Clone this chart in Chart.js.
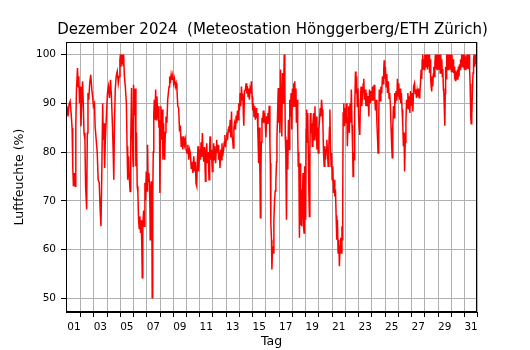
<!DOCTYPE html>
<html>
<head>
<meta charset="utf-8">
<script src="https://cdn.jsdelivr.net/npm/chart.js@4"></script>
<style>
html,body{margin:0;padding:0;background:#fff;}
#wrap{width:530px;height:350px;}
</style>
</head>
<body>
<div id="wrap"><canvas id="c" width="530" height="350"></canvas></div>
<script>
// Zeit in Tagen (Tick-Wert k = Beschriftung "k")
const tag = [
-0.10,-0.03,0.05,0.13,0.21,0.28,0.36,0.41,0.46,0.54,0.59,0.64,0.69,0.77,0.82,0.87,0.92,0.97,
1.03,1.10,1.15,1.21,1.26,1.33,1.38,1.46,1.51,1.56,1.62,1.69,1.77,1.85,1.92,1.97,
2.05,2.10,2.18,2.26,2.33,2.41,2.49,2.54,2.59,2.67,2.72,2.77,2.82,2.87,2.95,
3.03,3.10,3.18,3.26,3.33,3.41,3.46,3.51,3.56,3.62,3.69,3.77,3.85,3.92,
3.97,4.01,4.05,4.09,4.13,4.17,4.21,4.25,4.31,4.38,4.46,4.51,4.56,4.62,4.69,4.74,4.79,4.85,4.90,4.97,
5.00,5.07,5.13,5.18,5.22,5.28,5.33,5.38,5.43,5.48,5.53,5.58,5.63,5.66,5.70,5.76,5.81,5.86,5.91,5.96,
6.03,6.06,6.10,6.16,6.21,6.24,6.26,6.30,6.34,6.38,6.41,6.45,6.49,6.53,6.57,6.62,6.67,6.72,6.77,6.82,6.87,6.92,6.96,6.99,
7.03,7.07,7.12,7.17,7.22,7.27,7.31,7.35,7.40,7.45,7.52,7.58,7.63,7.68,7.73,7.78,7.84,7.90,7.96,
8.03,8.09,8.16,8.22,8.28,8.34,8.41,8.47,8.54,8.60,8.66,8.72,8.79,8.85,8.91,8.97,
9.04,9.10,9.17,9.23,9.29,9.36,9.42,9.48,9.55,9.61,9.67,9.72,9.77,9.82,9.87,9.92,
10.00,10.05,10.10,10.15,10.20,10.25,10.30,10.36,10.43,10.47,10.53,10.58,10.64,10.70,10.75,10.78,10.82,10.88,10.95,
11.00,11.05,11.10,11.15,11.20,11.25,11.28,11.33,11.38,11.43,11.48,11.53,11.58,11.63,11.68,11.73,11.80,11.85,11.90,11.95,
12.00,12.05,12.10,12.15,12.20,12.25,12.30,12.35,12.40,12.45,12.50,12.53,12.58,12.63,12.70,12.75,12.80,12.85,12.90,12.95,
13.00,13.05,13.10,13.15,13.20,13.25,13.30,13.33,13.38,13.45,13.50,13.55,13.60,13.65,13.70,13.75,13.80,13.85,13.90,13.95,
14.00,14.05,14.10,14.15,14.20,14.25,14.30,14.35,14.40,14.45,14.50,14.55,14.58,14.62,14.65,14.70,14.75,14.80,14.85,14.90,14.95,
15.00,15.05,15.10,15.15,15.20,15.25,15.30,15.33,15.37,15.42,15.45,15.50,15.55,15.60,15.65,15.70,15.75,15.80,15.83,15.88,15.93,15.97,
16.00,16.05,16.10,16.15,16.20,16.25,16.30,16.35,16.38,16.43,16.46,16.50,16.55,16.60,16.65,16.70,16.75,16.80,16.85,16.90,16.95,
17.00,17.05,17.10,17.15,17.18,17.22,17.27,17.30,17.35,17.40,17.44,17.48,17.53,17.58,17.62,17.66,17.70,17.75,17.80,17.84,17.88,17.92,17.96,
18.00,18.04,18.08,18.12,18.16,18.20,18.24,18.28,18.32,18.36,18.40,18.45,18.50,18.55,18.60,18.65,18.70,18.75,18.80,18.85,18.90,18.95,
19.00,19.05,19.10,19.15,19.20,19.25,19.30,19.35,19.40,19.45,19.50,19.55,19.60,19.65,19.70,19.75,19.80,19.83,19.87,19.92,19.96,
20.00,20.05,20.10,20.15,20.20,20.25,20.30,20.35,20.40,20.45,20.50,20.55,20.60,20.65,20.70,20.74,20.77,20.80,20.83,20.88,20.93,20.98,
21.03,21.08,21.12,21.15,21.20,21.25,21.30,21.35,21.40,21.45,21.50,21.55,21.58,21.62,21.66,21.70,21.76,21.80,21.85,21.90,21.95,
22.00,22.04,22.09,22.13,22.18,22.24,22.30,22.35,22.39,22.44,22.50,22.55,22.60,22.66,22.72,22.77,22.82,22.88,22.94,
23.00,23.05,23.10,23.17,23.22,23.27,23.32,23.38,23.44,23.47,23.52,23.56,23.62,23.68,23.74,23.80,23.85,23.90,23.93,23.97,
24.02,24.08,24.13,24.18,24.24,24.30,24.35,24.40,24.45,24.50,24.54,24.58,24.63,24.68,24.73,24.78,24.83,24.88,24.93,24.98,
25.03,25.08,25.13,25.18,25.23,25.28,25.33,25.38,25.43,25.47,25.52,25.57,25.62,25.67,25.72,25.77,25.82,25.87,25.92,25.97,
26.05,26.10,26.15,26.22,26.27,26.32,26.37,26.42,26.47,26.52,26.57,26.62,26.67,26.72,26.77,26.80,26.84,26.88,26.92,26.96,
27.00,27.04,27.08,27.12,27.16,27.20,27.24,27.28,27.32,27.36,27.40,27.44,27.48,27.52,27.56,27.60,27.64,27.68,27.72,27.76,27.80,27.84,27.88,27.92,27.96,
28.00,28.04,28.08,28.12,28.16,28.20,28.24,28.28,28.32,28.36,28.40,28.44,28.48,28.51,28.54,28.57,28.61,28.65,28.69,28.73,28.77,28.81,28.85,28.89,28.93,28.97,
29.01,29.05,29.09,29.13,29.17,29.21,29.25,29.30,29.34,29.38,29.42,29.46,29.50,29.54,29.58,29.62,29.66,29.70,29.74,29.78,29.82,29.86,29.90,29.94,29.98,
30.02,30.06,30.10,30.14,30.18,30.22,30.26,30.30,30.34,30.38,30.42,30.45,30.48,30.50,30.53,30.56,30.60,30.64,30.68,30.72,30.76,30.80,30.84,30.88,30.92
];

// Relative Luftfeuchte in %
const feuchte = [
88.3,89.4,87.3,89.7,90.4,88.3,84.9,77.1,73.0,75.7,73.0,85.3,92.8,97.2,93.4,95.5,90.0,93.4,
85.3,91.4,94.5,89.4,83.9,82.5,73.0,68.2,83.9,92.1,90.7,94.1,95.8,92.8,91.1,89.4,
90.0,85.3,82.5,79.8,74.3,73.7,67.5,64.8,73.0,90.0,82.5,85.9,76.7,82.5,87.3,
92.1,93.4,91.1,94.8,91.4,85.3,80.5,74.3,85.9,92.8,95.5,96.5,94.1,95.5,
98.9,100,97.5,100,98.2,100,97.8,100,95.5,93.4,90.0,81.2,74.3,79.1,74.3,71.9,82.5,93.1,83.9,77.1,
93.8,87.5,93.0,77.1,84.0,73.0,71.6,66.1,64.3,66.8,63.4,66.0,60.0,54.2,64.8,68.0,64.8,73.7,70.0,76.0,
72.0,81.5,74.0,75.7,73.0,68.0,62.0,72.3,74.0,70.0,50.1,70.0,80.0,88.0,90.7,86.6,92.8,86.6,91.4,87.0,89.4,85.0,86.6,71.6,
84.0,89.4,82.5,88.7,78.4,85.9,81.2,78.4,84.0,87.3,86.0,90.7,92.1,93.4,95.5,94.1,95.8,94.8,95.8,
94.1,95.0,93.4,94.1,92.8,89.4,89.0,84.6,85.0,81.2,83.2,80.5,83.2,81.5,82.5,80.5,
79.8,81.5,78.4,80.5,79.8,76.5,78.0,75.7,79.1,76.0,78.0,73.5,73.0,78.0,81.2,76.0,
80.5,78.4,82.0,79.0,83.9,80.0,78.0,81.0,74.0,80.0,81.8,77.7,80.0,74.3,81.0,83.2,78.4,80.5,76.0,
80.0,81.8,78.4,81.2,77.7,80.5,82.5,79.8,81.5,78.4,80.0,76.7,80.5,78.4,81.8,79.1,80.5,82.0,83.5,81.0,
82.5,84.0,82.5,84.6,85.3,84.0,86.6,83.0,88.3,83.2,82.0,80.8,85.0,85.9,84.6,87.5,85.9,88.5,86.6,90.0,
88.5,92.1,89.4,93.4,90.7,92.0,87.3,85.4,92.5,92.8,94.1,92.0,93.5,91.4,93.0,90.7,92.8,92.0,94.5,91.4,
88.5,90.0,87.3,89.4,86.6,89.0,87.0,88.0,83.0,77.7,85.0,75.0,66.5,75.0,82.0,87.0,85.9,88.5,86.0,88.0,85.9,
83.0,87.3,85.9,88.0,86.6,89.5,82.0,77.7,65.5,62.0,55.9,60.7,59.3,66.0,70.0,72.0,74.0,78.0,82.5,88.0,93.1,86.0,
92.8,83.9,96.9,89.4,83.2,96.2,90.0,95.0,100,94.1,83.2,80.0,66.1,82.5,76.4,86.6,80.5,90.7,87.3,92.1,84.6,
93.0,89.4,94.1,90.0,94.5,89.4,93.0,86.0,90.7,83.9,77.1,80.0,62.4,77.7,65.0,72.3,64.8,70.0,75.7,64.8,63.4,77.1,70.0,
66.1,84.6,88.7,82.0,88.0,79.8,72.0,66.8,80.0,88.0,83.9,85.9,81.2,86.0,88.0,82.5,89.4,83.2,87.3,80.5,85.0,79.8,
84.6,86.6,89.0,87.3,90.7,88.7,85.9,79.8,77.1,81.2,78.4,80.5,82.5,79.8,77.1,81.2,85.0,88.7,82.0,77.1,79.8,
74.3,77.1,71.6,74.3,70.9,72.3,67.0,62.0,66.1,59.3,62.0,56.6,60.7,62.4,59.3,64.8,62.0,70.0,88.0,90.0,85.3,89.0,
85.9,90.0,86.0,81.2,87.0,89.4,83.9,90.0,86.0,92.8,85.5,80.0,75.0,80.0,78.4,88.0,96.5,92.0,95.5,89.4,93.0,
87.0,85.0,83.5,90.0,93.4,89.4,92.0,94.0,95.0,90.7,92.8,89.4,92.1,89.4,91.5,87.3,92.8,90.0,92.5,
90.5,93.4,90.5,93.8,91.0,88.5,90.7,86.0,82.0,79.8,87.0,92.8,90.5,93.4,92.0,95.5,94.0,97.0,98.8,95.0,
97.5,93.4,96.0,92.1,94.5,91.0,92.1,89.4,85.0,81.0,78.8,85.0,89.4,87.0,92.1,90.0,92.5,90.5,95.0,91.5,
94.1,90.7,93.0,90.0,92.1,88.7,86.0,81.2,84.0,76.0,82.0,85.9,90.7,89.0,92.1,88.7,91.4,88.0,92.5,89.5,
92.1,88.3,93.4,94.1,92.0,92.8,91.1,92.5,91.4,93.0,91.1,92.0,94.0,96.9,95.0,98.9,100,97.0,99.0,96.9,
100,97.5,100,98.0,100,96.9,100,97.5,100,96.2,99.0,95.0,93.4,92.4,95.5,93.5,96.0,97.5,95.5,98.2,100,97.0,100,96.9,100,
97.5,100,97.0,100,96.2,100,96.9,99.0,95.5,97.0,93.0,92.0,88.0,85.4,92.0,97.5,95.0,100,97.0,100,96.9,100,97.5,100,97.0,100,
96.5,100,97.0,99.0,96.2,97.5,95.5,96.0,94.5,96.5,94.8,96.9,94.8,97.5,95.5,98.0,96.9,99.0,97.5,100,98.0,100,97.5,100,97.0,
100,96.9,99.6,97.2,100,97.5,100,97.0,100,96.9,94.0,91.1,87.3,85.8,90.0,87.3,93.0,96.2,98.9,100,97.5,100,98.0,100,96.9
];

const tickTage = [1,2,3,4,5,6,7,8,9,10,11,12,13,14,15,16,17,18,19,20,21,22,23,24,25,26,27,28,29,30,31];
const yTicks = [50,60,70,80,90,100];
const titel = 'Dezember 2024  (Meteostation Hönggerberg/ETH Zürich)';
const xTitel = 'Tag';
const yTitel = 'Luftfeuchte (%)';

const punkte = tag.map((t, i) => ({x: t, y: feuchte[i]}));
const FONT = 'DejaVu Sans';

const rahmen = {
  id: 'rahmen',
  afterDatasetsDraw(chart) {
    const a = chart.chartArea, c = chart.ctx;
    c.save();
    c.strokeStyle = '#000';
    c.lineWidth = 1;
    c.strokeRect(Math.round(a.left) + 0.5, Math.round(a.top) + 0.5,
                 Math.round(a.right - a.left) - 1, Math.round(a.bottom - a.top) - 1);
    c.restore();
  },
  afterDraw(chart) {
    const c = chart.ctx, a = chart.chartArea;
    c.save();
    c.fillStyle = '#000';
    c.font = '15px "' + FONT + '"';
    c.textAlign = 'center';
    c.textBaseline = 'alphabetic';
    c.fillText(titel, (a.left + a.right) / 2 + 1, 34);
    c.restore();
  }
};

new Chart(document.getElementById('c').getContext('2d'), {
  type: 'line',
  data: {
    datasets: [{
      data: punkte,
      borderColor: '#ff0000',
      borderWidth: 1.5,
      pointRadius: 0,
      tension: 0,
      fill: false
    }]
  },
  options: {
    responsive: false,
    animation: false,
    devicePixelRatio: 1,
    layout: {padding: {top: 42, right: 53, left: 0, bottom: 0}},
    plugins: {legend: {display: false}, tooltip: {enabled: false}, title: {display: false}},
    scales: {
      x: {
        type: 'linear',
        min: -0.1,
        max: 30.94,
        afterBuildTicks: s => { s.ticks = tickTage.map(v => ({value: v})); },
        afterFit: s => { s.height = 38; },
        ticks: {
          autoSkip: false, maxRotation: 0, minRotation: 0, align: 'end', padding: 4,
          color: '#000', font: {family: FONT, size: 10.5},
          callback: v => (v % 2 === 1 ? String(v).padStart(2, '0') : '')
        },
        grid: {color: '#b0b0b0', lineWidth: 1, tickLength: 5, tickColor: '#000', drawTicks: true},
        border: {display: true, color: '#000', width: 1},
        title: {display: true, text: xTitel, color: '#000', font: {family: FONT, size: 12.5}, padding: {top: 0, bottom: 0.5}}
      },
      y: {
        type: 'linear',
        min: 47.2,
        max: 102.55,
        afterBuildTicks: s => { s.ticks = yTicks.map(v => ({value: v})); },
        afterFit: s => { s.width = 66; },
        ticks: {padding: 5, color: '#000', font: {family: FONT, size: 10.5}, callback: v => String(v)},
        grid: {color: '#b0b0b0', lineWidth: 1, tickLength: 5, tickColor: '#000', drawTicks: true},
        border: {display: true, color: '#000', width: 1},
        title: {display: true, text: yTitel, color: '#000', font: {family: FONT, size: 12.5}, padding: {top: 12, bottom: 0}}
      }
    }
  },
  plugins: [rahmen]
});
</script>
</body>
</html>
